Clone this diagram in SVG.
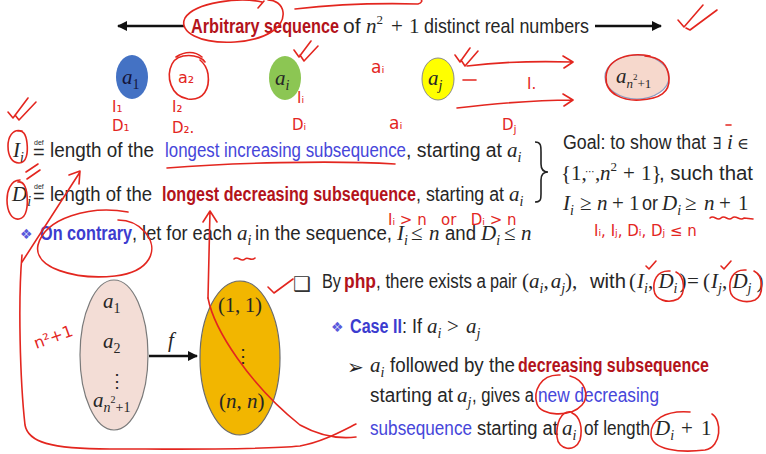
<svg xmlns="http://www.w3.org/2000/svg" width="766" height="454" viewBox="0 0 766 454">
<style>
.s{font-family:"Liberation Sans",Arial,sans-serif;font-size:20px;fill:#262626}
.b{font-weight:bold}
.dr{fill:#b3131b}
.bl{fill:#4646da}
.bb{fill:#3c3ccf}
.m{font-family:"Liberation Serif","Times New Roman",serif;font-style:italic;font-size:21px;fill:#262626}
.r{font-family:"Liberation Serif","Times New Roman",serif;font-size:21px;fill:#262626}
.sub{font-size:14px}
.up{font-style:normal}
.sym{font-family:"DejaVu Sans",sans-serif;font-size:14px}
.ink{fill:none;stroke:#e3261f;stroke-width:1.6;stroke-linecap:round;stroke-linejoin:round}
.hw{font-family:"DejaVu Sans",sans-serif;font-size:15px;fill:#e3261f}
.conn{stroke:#111;stroke-width:2.5;fill:none}
</style>
<defs>
<marker id="ah" viewBox="0 0 10 10" refX="9" refY="5" markerWidth="5" markerHeight="4" orient="auto-start-reverse"><path d="M0,0 L10,5 L0,10 z" fill="#111"/></marker>
</defs>
<rect width="766" height="454" fill="#ffffff"/>

<!-- title -->
<g id="title">
<text class="s b dr" x="191" y="33" style="font-size:21px" textLength="148" lengthAdjust="spacingAndGlyphs">Arbitrary sequence</text>
<text class="s" x="343" y="33" style="font-size:21px">of</text>
<text class="m" x="366" y="33">n<tspan class="up" style="font-size:13px" dy="-9">2</tspan></text>
<text class="r" x="391" y="33">+</text><text class="r" x="409" y="33">1</text>
<text class="s" x="424" y="33" style="font-size:21px" textLength="165" lengthAdjust="spacingAndGlyphs">distinct real numbers</text>
</g>

<!-- connectors -->
<g id="connectors">
<line class="conn" x1="184" y1="26" x2="118" y2="26" marker-end="url(#ah)"/>
<line class="conn" x1="595" y1="26" x2="661" y2="26" marker-end="url(#ah)"/>
<line class="conn" x1="149" y1="356" x2="197" y2="356" marker-end="url(#ah)"/>
</g>

<!-- sequence nodes -->
<g id="node-a1">
<ellipse cx="132" cy="77" rx="16" ry="22" fill="#4472c4"/>
<text class="m" x="122" y="84" style="fill:#14143a">a<tspan class="sub up" dy="5">1</tspan></text>
</g>
<g id="node-ai">
<ellipse cx="285" cy="78" rx="16" ry="22" fill="#8cc653"/>
<text class="m" x="275" y="85">a<tspan class="sub" dy="5">i</tspan></text>
</g>
<g id="node-aj">
<ellipse cx="438" cy="79" rx="16" ry="21" fill="#ffff00" stroke="#8a8a8a" stroke-width="1"/>
<text class="m" x="428" y="85">a<tspan class="sub" dy="5">j</tspan></text>
</g>
<g id="node-an">
<ellipse cx="637" cy="77" rx="32" ry="22" fill="#f6d8cc" stroke="#8c9bc0" stroke-width="1.2"/>
<text class="m" x="616" y="83">a<tspan style="font-size:13px" dy="5">n</tspan><tspan class="up" style="font-size:9px" dy="-8">2</tspan><tspan class="up" style="font-size:13px" dy="8">+1</tspan></text>
</g>

<!-- definitions -->
<g id="def-I">
<text class="m" x="13" y="157">I<tspan class="sub" dy="5">i</tspan></text>
<text class="s" x="34" y="145" style="font-size:7px">def</text><text class="s" x="33" y="159">=</text>
<text class="s" x="50" y="157" textLength="104" lengthAdjust="spacingAndGlyphs">length of the</text>
<text class="s bl" x="165" y="157" textLength="241" lengthAdjust="spacingAndGlyphs">longest increasing subsequence</text>
<text class="s" x="406" y="157" textLength="96" lengthAdjust="spacingAndGlyphs">, starting at</text>
<text class="m" x="507" y="157">a<tspan class="sub" dy="5">i</tspan></text>
</g>
<g id="def-D">
<text class="m" x="12" y="201">D<tspan class="sub" dy="5">i</tspan></text>
<text class="s" x="34" y="189" style="font-size:7px">def</text><text class="s" x="33" y="203">=</text>
<text class="s" x="50" y="201" textLength="102" lengthAdjust="spacingAndGlyphs">length of the</text>
<text class="s b dr" x="162" y="201" textLength="254" lengthAdjust="spacingAndGlyphs">longest decreasing subsequence</text>
<text class="s" x="416" y="201" textLength="88" lengthAdjust="spacingAndGlyphs">, starting at</text>
<text class="m" x="509" y="201">a<tspan class="sub" dy="5">i</tspan></text>
</g>
<g id="contrary">
<text class="sym" x="20" y="239" style="fill:#5a5adc">❖</text>
<text class="s b bb" x="40" y="240" textLength="92" lengthAdjust="spacingAndGlyphs">On contrary</text>
<text class="s" x="132" y="240" textLength="100" lengthAdjust="spacingAndGlyphs">, let for each</text>
<text class="m" x="237" y="240">a<tspan class="sub" dy="5">i</tspan></text>
<text class="s" x="255" y="240" textLength="137" lengthAdjust="spacingAndGlyphs">in the sequence,</text>
<text class="m" x="397" y="240">I<tspan class="sub" dy="5">i</tspan></text>
<text class="r" x="411" y="240">≤</text><text class="m" x="429" y="240">n</text>
<text class="s" x="445" y="240" textLength="31" lengthAdjust="spacingAndGlyphs">and</text>
<text class="m" x="481" y="240">D<tspan class="sub" dy="5">i</tspan></text>
<text class="r" x="504" y="240">≤</text><text class="m" x="521" y="240">n</text>
</g>

<!-- goal -->
<g id="goal">
<path d="M535,142 C541,142 541,146 541,152 L541,164 C541,169 543,172 548,172 C543,172 541,175 541,180 L541,194 C541,199 541,202 535,202" fill="none" stroke="#222" stroke-width="1.6"/>
<text class="s" x="563" y="149" textLength="143" lengthAdjust="spacingAndGlyphs">Goal:  to show that</text>
<text class="r" x="713" y="149" style="font-family:'DejaVu Serif',serif;font-size:16px">∃</text><text class="m" x="727" y="149">i</text><text class="r" x="737" y="149" style="font-family:'DejaVu Serif',serif;font-size:16px">∈</text>
<text class="r" x="561" y="180">{1,</text><text class="sym" x="585" y="175" style="fill:#262626;font-size:10px">⋯</text><text class="r" x="595" y="180">,</text>
<text class="m" x="600" y="180">n<tspan class="up" style="font-size:13px" dy="-9">2</tspan></text>
<text class="r" x="623" y="180">+</text><text class="r" x="641" y="180">1}</text>
<text class="s" x="659" y="180" textLength="94" lengthAdjust="spacingAndGlyphs">, such that</text>
<text class="m" x="563" y="210">I<tspan class="sub" dy="5">i</tspan></text>
<text class="r" x="580" y="210">≥</text><text class="m" x="597" y="210">n</text><text class="r" x="612" y="210">+</text><text class="r" x="629" y="210">1</text>
<text class="s" x="642" y="210" textLength="16" lengthAdjust="spacingAndGlyphs">or</text>
<text class="m" x="662" y="210">D<tspan class="sub" dy="5">i</tspan></text>
<text class="r" x="685" y="210">≥</text><text class="m" x="704" y="210">n</text><text class="r" x="719" y="210">+</text><text class="r" x="738" y="210">1</text>
</g>

<!-- mapping -->
<g id="node-domain">
<ellipse cx="114" cy="355" rx="34" ry="75" fill="#f3ddd6" stroke="#7a7a7a" stroke-width="1.2"/>
<text class="m" x="103" y="308">a<tspan class="sub up" dy="5">1</tspan></text>
<text class="m" x="103" y="348">a<tspan class="sub up" dy="5">2</tspan></text>
<text class="r" x="108" y="387" style="font-family:'DejaVu Serif',serif;font-size:18px">⋮</text>
<text class="m" x="93" y="407">a<tspan style="font-size:14px" dy="5">n</tspan><tspan class="up" style="font-size:10px" dy="-9">2</tspan><tspan class="up" style="font-size:14px" dy="9">+1</tspan></text>
</g>
<g id="node-range">
<ellipse cx="240" cy="358" rx="40" ry="77" fill="#f2b600" stroke="#6b6b6b" stroke-width="1.2"/>
<text class="r" x="218" y="312" textLength="44">(1, 1)</text>
<text class="r" x="234" y="362" style="font-family:'DejaVu Serif',serif;font-size:18px">⋮</text>
<text class="r" x="219" y="408">(<tspan class="m">n</tspan>, <tspan class="m">n</tspan>)</text>
</g>
<text class="m" x="168" y="347">f</text>

<!-- php argument -->
<g id="php">
<text class="sym" x="293" y="291" style="fill:#333;font-size:20px">❑</text>
<text class="s" x="322" y="288" textLength="19" lengthAdjust="spacingAndGlyphs">By</text>
<text class="s b dr" x="344" y="288" textLength="32" lengthAdjust="spacingAndGlyphs">php</text>
<text class="s" x="376" y="288" textLength="110" lengthAdjust="spacingAndGlyphs">, there exists a</text>
<text class="s" x="490" y="288" textLength="27" lengthAdjust="spacingAndGlyphs">pair</text>
<text class="r" x="522" y="288">(<tspan class="m">a</tspan><tspan class="m sub" dy="5">i</tspan><tspan dy="-5">,</tspan><tspan class="m" dx="2">a</tspan><tspan class="m sub" dy="5">j</tspan><tspan dy="-5">)</tspan>,</text>
<text class="s" x="590" y="288" textLength="36" lengthAdjust="spacingAndGlyphs">with</text>
<text class="r" x="629" y="288">(<tspan class="m" dx="1">I</tspan><tspan class="m sub" dy="5">i</tspan><tspan dy="-5">, </tspan><tspan class="m">D</tspan><tspan class="m sub" dy="5">i</tspan><tspan dy="-5" dx="2">)</tspan></text>
<text class="r" x="687" y="288">=</text>
<text class="r" x="703" y="288">(<tspan class="m" dx="1">I</tspan><tspan class="m sub" dy="5">j</tspan><tspan dy="-5">, </tspan><tspan class="m">D</tspan><tspan class="m sub" dy="5">j</tspan><tspan dy="-5" dx="5">)</tspan></text>
</g>
<g id="case2">
<text class="sym" x="331" y="332" style="fill:#5a5adc">❖</text>
<text class="s b bb" x="350" y="333" textLength="52" lengthAdjust="spacingAndGlyphs">Case II</text>
<text class="s" x="402" y="333" textLength="20" lengthAdjust="spacingAndGlyphs">: If</text>
<text class="m" x="427" y="333">a<tspan class="sub" dy="5">i</tspan></text>
<text class="r" x="447" y="333">&gt;</text>
<text class="m" x="466" y="333">a<tspan class="sub" dy="5">j</tspan></text>
</g>
<g id="conclusion">
<text class="sym" x="347" y="374" style="fill:#222;font-size:20px">➢</text>
<text class="m" x="370" y="372">a<tspan class="sub" dy="5">i</tspan></text>
<text class="s" x="390" y="372" textLength="125" lengthAdjust="spacingAndGlyphs">followed by the</text>
<text class="s b dr" x="518" y="372" textLength="191" lengthAdjust="spacingAndGlyphs">decreasing subsequence</text>
<text class="s" x="370" y="402" textLength="83" lengthAdjust="spacingAndGlyphs">starting at</text>
<text class="m" x="457" y="402">a<tspan class="sub" dy="5">j</tspan></text>
<text class="s" x="472" y="402" textLength="62" lengthAdjust="spacingAndGlyphs">, gives a</text>
<text class="s bl" x="538" y="402" textLength="121" lengthAdjust="spacingAndGlyphs">new decreasing</text>
<text class="s bl" x="370" y="435" textLength="102" lengthAdjust="spacingAndGlyphs">subsequence</text>
<text class="s" x="477" y="435" textLength="81" lengthAdjust="spacingAndGlyphs">starting at</text>
<text class="m" x="562" y="435">a<tspan class="sub" dy="5">i</tspan></text>
<text class="s" x="584" y="435" textLength="66" lengthAdjust="spacingAndGlyphs">of length</text>
<text class="m" x="655" y="435">D<tspan class="sub" dy="5">i</tspan></text>
<text class="r" x="681" y="435">+</text><text class="r" x="701" y="435">1</text>
</g>

<!-- handwritten annotations -->
<g id="annotations">
<path class="ink" d="M262,2 C240,-3 195,2 185,18 C178,32 200,44 235,42 C265,40 285,28 283,12 C282,4 275,0 268,0 M258,8 L264,1"/>
<path class="ink" d="M295,9 C330,5 380,3 418,4 C422,3 423,0 420,-1"/>
<path class="ink" d="M294,50 L299,57 L311,41 M300,55 L304,61 L318,46"/>
<path class="ink" d="M455,55 L460,62 L470,48 M461,60 L465,66 L478,51"/>
<path class="ink" d="M678,20 L684,27 L703,5 M686,28 L690,30 L717,10"/>
<path class="ink" d="M8,112 L13,118 L28,98 M15,115 L19,120 L36,102"/>
<path class="ink" d="M205,62 C200,54 178,52 172,64 C166,76 170,96 188,99 C204,101 210,88 208,74 C207,68 205,64 200,60 M176,57 C185,51 195,51 202,57"/>
<text class="hw" x="178" y="83" style="font-size:16px">a₂</text>
<text class="hw" x="112" y="112">I₁</text><text class="hw" x="112" y="131">D₁</text>
<text class="hw" x="172" y="112">I₂</text><text class="hw" x="172" y="133">D₂.</text>
<text class="hw" x="297" y="103">Iᵢ</text><text class="hw" x="292" y="130">Dᵢ</text>
<text class="hw" x="371" y="73" style="font-size:17px">aᵢ</text><text class="hw" x="389" y="129" style="font-size:17px">aᵢ</text>
<path class="ink" d="M463,80 L476,80"/>
<path class="ink" d="M467,66 C500,62 540,61 572,62 M563,56 L573,62 L564,68"/>
<text class="hw" x="527" y="89">I.</text>
<path class="ink" d="M457,108 C500,103 540,100 572,100 M563,94 L573,100 L564,106"/>
<text class="hw" x="502" y="130">D<tspan style="font-size:11px" dy="3">j</tspan></text>
<path class="ink" d="M650,56 C630,52 607,58 606,77 C605,95 625,101 640,100 C660,99 670,92 669,78 C668,64 660,57 645,56"/>
<path class="ink" d="M22,131 C12,128 8,138 8,146 C8,156 12,163 19,163 C27,163 28,152 27,143 C26,134 23,130 18,131"/>
<path class="ink" d="M20,180 C10,180 7,192 7,200 C7,212 12,220 19,219 C27,218 28,205 27,195 C26,186 23,181 18,182"/>
<path class="ink" d="M26,172 L38,164 M27,179 L40,170"/>
<path class="ink" d="M167,168 C230,163 330,160 395,164"/>
<path class="ink" d="M22,262 L80,172 M69,175 L80,171 L79,184"/>
<path class="ink" d="M128,212 C90,205 45,218 38,245 C33,268 75,280 115,276 C150,272 160,250 145,232 C138,224 128,220 118,220"/>
<path class="ink" d="M210,211 L208,298 M203,222 L210,211 L217,222"/>
<text class="hw" x="388" y="225" xml:space="preserve">Iᵢ > n   or   Dᵢ > n</text>
<path class="ink" d="M234,259 C238,255 241,263 245,259 C248,256 251,262 255,258"/>
<path class="ink" d="M208,298 C214,330 250,385 300,425 C320,436 340,439 356,437"/>
<path class="ink" d="M22,255 C18,300 20,380 25,425 C28,442 50,449 110,449 C180,449 260,450 300,446 C322,442 340,432 356,424"/>
<text class="hw" x="31" y="345" style="font-size:16px" transform="rotate(-20 45 332)">n²+1</text>
<text class="hw" x="594" y="236">Iᵢ, Iⱼ, Dᵢ, Dⱼ ≤ n</text>
<path class="ink" d="M710,218 C714,214 717,222 721,218 C725,214 728,222 732,218 C736,214 740,222 744,218 L753,219"/>
<path class="ink" d="M726,125 L731,125"/>
<path class="ink" d="M268,287 L274,293 L293,279"/>
<path class="ink" d="M646,266 L649,269 L656,261 M721,266 L724,269 L731,261"/>
<path class="ink" d="M670,271 C656,270 653,282 654,290 C655,300 668,304 678,299 C686,294 685,276 676,272"/>
<path class="ink" d="M746,270 C732,269 729,281 730,290 C731,300 745,304 755,300 C764,295 764,276 754,271"/>
<path class="ink" d="M560,375 C540,374 533,392 537,404 C541,416 570,418 582,405 C590,396 585,380 570,376"/>
<path class="ink" d="M572,412 C560,410 556,425 557,437 C558,450 575,453 580,440 C583,428 580,416 572,413"/>
<path class="ink" d="M690,412 C665,410 650,420 651,435 C652,450 680,453 705,450 C722,447 722,420 712,414"/>
</g>
</svg>
